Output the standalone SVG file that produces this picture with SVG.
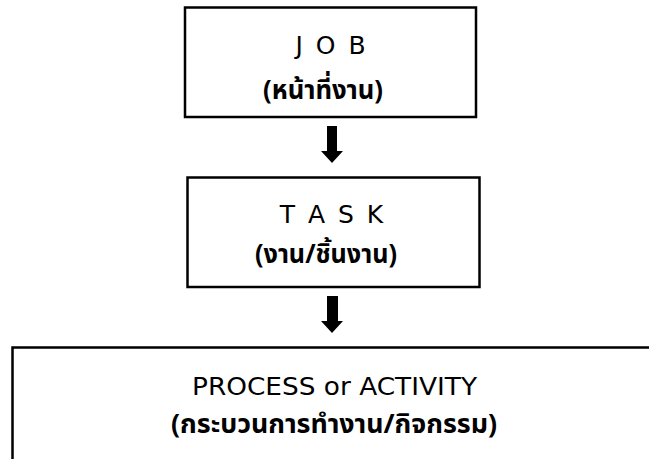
<svg xmlns="http://www.w3.org/2000/svg" width="649" height="459" viewBox="0 0 649 459">
<style>
.box{fill:#fff;stroke:#000;stroke-width:2.5}
.lat{font-family:"DejaVu Sans","Noto Sans",sans-serif;font-size:25px;fill:#000;text-anchor:middle}
.thai{font-family:"Noto Sans Thai","Noto Sans","Leelawadee UI",Tahoma,sans-serif;font-size:27px;font-weight:bold;fill:#000;text-anchor:middle}
.arr{fill:#000}
</style>
<rect width="649" height="459" fill="#fff"/>
<g id="job">
<rect class="box" x="185" y="7.5" width="291" height="109.5"/>
<text class="lat" x="331.75" y="54" letter-spacing="2.5">J O B</text>
<text class="thai" x="323" y="99" textLength="120" lengthAdjust="spacingAndGlyphs">(หน้าที่งาน)</text>
</g>
<g id="task">
<rect class="box" x="187.5" y="177.5" width="292" height="109.5"/>
<text class="lat" x="332.75" y="223" letter-spacing="2.5">T A S K</text>
<text class="thai" x="326" y="263" textLength="142" lengthAdjust="spacingAndGlyphs">(งาน/ชิ้นงาน)</text>
</g>
<g id="process">
<path class="box" d="M12.5,462 V347.5 H652"/>
<text class="lat" x="334.5" y="395" textLength="285" lengthAdjust="spacingAndGlyphs">PROCESS or ACTIVITY</text>
<text class="thai" x="334" y="433" textLength="326" lengthAdjust="spacingAndGlyphs">(กระบวนการทำงาน/กิจกรรม)</text>
</g>
<g id="connectors">
<polygon class="arr" points="327,126 337,126 337,151 343,151 332,163 321,151 327,151"/>
<polygon class="arr" points="327,296 338,296 338,321 343,321 332,333 321,321 327,321"/>
</g>
</svg>
